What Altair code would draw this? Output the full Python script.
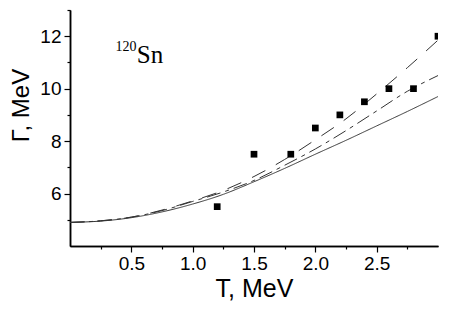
import altair as alt
import pandas as pd

# Theory curves
T_curve = [0.0, 0.25, 0.5, 0.75, 1.0, 1.25, 1.5, 1.75, 2.0, 2.25, 2.5, 2.75, 3.0]
G_solid = [4.9, 4.95, 5.08, 5.3, 5.6, 5.97, 6.45, 6.96, 7.5, 8.03, 8.58, 9.13, 9.7]
G_dashdot = [4.9, 4.96, 5.1, 5.35, 5.7, 6.06, 6.5, 7.08, 7.7, 8.4, 9.15, 9.9, 10.5]
G_dash = [4.9, 4.96, 5.1, 5.37, 5.72, 6.12, 6.65, 7.3, 8.05, 8.85, 9.8, 10.8, 11.85]

# Experimental points
T_exp = [1.2, 1.5, 1.8, 2.0, 2.2, 2.4, 2.6, 2.8, 3.0]
G_exp = [5.5, 7.5, 7.5, 8.5, 9.0, 9.5, 10.0, 10.0, 12.0]

# Axis ticks
x_major = [0.5, 1.0, 1.5, 2.0, 2.5]
x_minor = [0.25, 0.75, 1.25, 1.75, 2.25, 2.75]
y_major = [6, 8, 10, 12]
y_minor = [5, 7, 9, 11, 13]

rows = []
for name, ys in [("solid", G_solid), ("dashdot", G_dashdot), ("dash", G_dash)]:
    for t, g in zip(T_curve, ys):
        rows.append({"T": t, "G": g, "s": name})
curves = pd.DataFrame(rows)
pts = pd.DataFrame({"T": T_exp, "G": G_exp})
lab_sup = pd.DataFrame({"T": [0.37], "G": [11.45], "txt": ["120"]})
lab_el = pd.DataFrame({"T": [0.545], "G": [10.97], "txt": ["Sn"]})

xs = alt.Scale(domain=[0, 3.0], nice=False, zero=False)
ys = alt.Scale(domain=[4, 13], nice=False, zero=False)

common = dict(grid=False, domainColor="black", domainWidth=1.5, tickColor="black",
              tickWidth=1.2, labelColor="black", titleColor="black")

x_axis = alt.Axis(
    values=x_major, format=".1f", tickSize=6, orient="bottom",
    title="T, MeV", titleFontSize=25, titleFontWeight="normal", titleFont="Liberation Sans",
    titlePadding=3, labelFontSize=19, labelFont="Liberation Sans", labelPadding=2,
    **common,
)
y_axis = alt.Axis(
    values=y_major, tickSize=6, orient="left",
    title="Γ, MeV", titleFontSize=24, titleFontWeight="normal", titleFont="Liberation Sans",
    titlePadding=6, titleY=95, titleAnchor="middle",
    labelFontSize=19, labelFont="Liberation Sans", labelPadding=3,
    **common,
)
x_axis_minor = alt.Axis(values=x_minor, tickSize=3, labels=False, title=None,
                        orient="bottom", **common)
y_axis_minor = alt.Axis(values=y_minor, tickSize=3, labels=False, title=None,
                        orient="left", **common)

lines = alt.Chart(curves).mark_line(strokeWidth=1, color="#333333", clip=True,
                                    interpolate="monotone").encode(
    x=alt.X("T:Q", scale=xs, axis=x_axis),
    y=alt.Y("G:Q", scale=ys, axis=y_axis),
    detail="s:N",
    strokeDash=alt.StrokeDash("s:N", scale=alt.Scale(
        domain=["solid", "dashdot", "dash"],
        range=[[1, 0], [14, 5, 4, 5], [15, 12]]), legend=None),
)

minor = alt.Chart(pts).mark_point(opacity=0).encode(
    x=alt.X("T:Q", scale=xs, axis=x_axis_minor),
    y=alt.Y("G:Q", scale=ys, axis=y_axis_minor),
)

points = alt.Chart(pts).mark_square(size=45, color="black", opacity=1, clip=True).encode(
    x=alt.X("T:Q", scale=xs, axis=None), y=alt.Y("G:Q", scale=ys, axis=None)
)

t1 = alt.Chart(lab_sup).mark_text(font="Liberation Serif", fontSize=14, align="left",
                                   baseline="alphabetic", color="black").encode(
    x=alt.X("T:Q", scale=xs, axis=None), y=alt.Y("G:Q", scale=ys, axis=None), text="txt:N")
t2 = alt.Chart(lab_el).mark_text(font="Liberation Serif", fontSize=25, align="left",
                                  baseline="alphabetic", color="black").encode(
    x=alt.X("T:Q", scale=xs, axis=None), y=alt.Y("G:Q", scale=ys, axis=None), text="txt:N")

chart = alt.layer(lines, minor, points, t1, t2).resolve_axis(
    x="independent", y="independent"
).properties(
    width=368, height=236,
    autosize=alt.AutoSizeParams(type="none"),
    padding={"left": 62, "top": 2, "right": 4, "bottom": 58},
).configure_view(stroke=None)

chart.save("out.html", embed_options={"renderer": "svg", "actions": False})
